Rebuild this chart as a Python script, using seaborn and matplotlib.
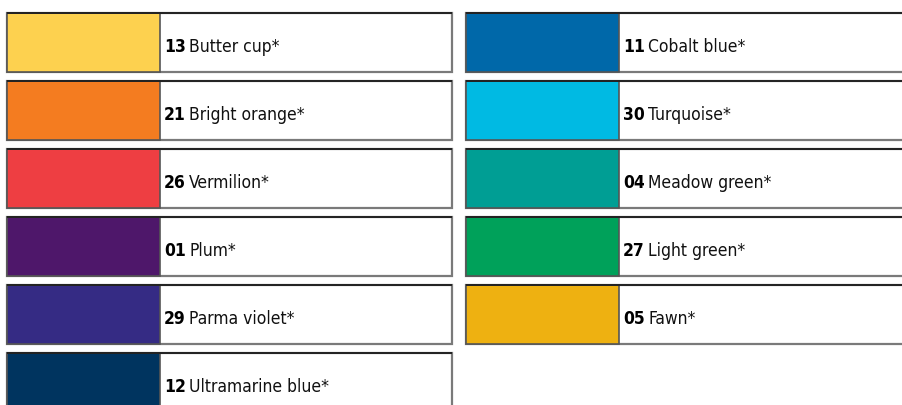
import matplotlib.pyplot as plt
import matplotlib.font_manager as fm
import seaborn as sns

# swatch data, left column then right column
codes = ["13", "21", "26", "01", "29", "12", "11", "30", "04", "27", "05"]
names = ["Butter cup*", "Bright orange*", "Vermilion*", "Plum*", "Parma violet*",
         "Ultramarine blue*", "Cobalt blue*", "Turquoise*", "Meadow green*",
         "Light green*", "Fawn*"]
colors = ["#FDD14F", "#F47C20", "#EE3E42", "#4E176A", "#352B84", "#00345F",
          "#0068A9", "#00BAE3", "#009E94", "#00A15A", "#EEB111"]
column = [0, 0, 0, 0, 0, 0, 1, 1, 1, 1, 1]

sns.set_style("white")
names_avail = {f.name for f in fm.fontManager.ttflist}
stretch = "normal"
if "Liberation Sans Narrow" in names_avail:
    fam = "Liberation Sans Narrow"
else:
    fam = "DejaVu Sans"
    stretch = "condensed"
plt.rcParams["font.family"] = [fam, "DejaVu Sans"]

fig = plt.figure(figsize=(9.02, 4.05), dpi=100)
ax = fig.add_axes([0, 0, 1, 1])
ax.set_xlim(0, 902)
ax.set_ylim(405, 0)
ax.axis("off")

col_x = [7, 466]
swatch_w = 153
box_w = [445, 450]
row_top = 13.3
row_step = 68
row_h = 58.5

rows = [0, 0]
for code, name, c, col in zip(codes, names, colors, column):
    r = rows[col]
    rows[col] += 1
    y = row_top + r * row_step + row_h / 2
    x0 = col_x[col]
    # label box
    ax.barh(y, box_w[col], left=x0, height=row_h, color="white",
            edgecolor="#7a7a7a", linewidth=1.6)
    # colour block
    ax.barh(y, swatch_w, left=x0, height=row_h, color=c,
            edgecolor="#555555", linewidth=1.2)
    # darker top line
    ax.plot([x0, x0 + box_w[col]], [y - row_h / 2, y - row_h / 2],
            color="#222222", linewidth=1.4, solid_capstyle="butt")
    tx = x0 + swatch_w + 4
    t = ax.text(tx, y + 9.5, code, fontsize=12.5, fontweight="bold",
                fontstretch=stretch, va="baseline", ha="left", color="black")
    fig.canvas.draw()
    bb = t.get_window_extent()
    inv = ax.transData.inverted()
    x_end = inv.transform((bb.x1, bb.y0))[0]
    ax.text(x_end + 3.5, y + 9.5, name, fontsize=12.5, fontstretch=stretch,
            va="baseline", ha="left", color="#111111")

fig.savefig("out.png", dpi=100)
